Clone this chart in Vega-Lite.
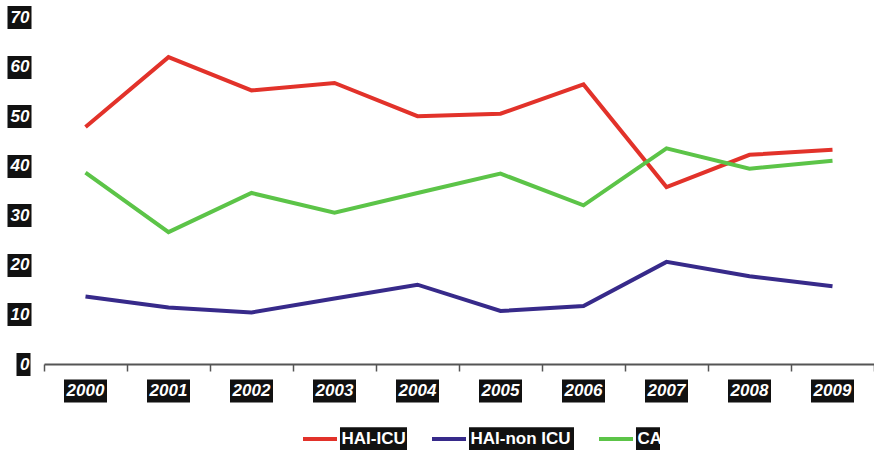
{
  "$schema": "https://vega.github.io/schema/vega-lite/v6.json",
  "width": 830,
  "height": 347,
  "autosize": {"type": "none"},
  "padding": {"left": 44, "top": 17, "right": 0, "bottom": 86},
  "background": "white",
  "config": {"view": {"stroke": null}, "font": "Liberation Sans"},
  "data": {
    "values": [
      {"year": "2000", "series": "HAI-ICU", "value": 47.8},
      {"year": "2001", "series": "HAI-ICU", "value": 61.9},
      {"year": "2002", "series": "HAI-ICU", "value": 55.2},
      {"year": "2003", "series": "HAI-ICU", "value": 56.7},
      {"year": "2004", "series": "HAI-ICU", "value": 50.0},
      {"year": "2005", "series": "HAI-ICU", "value": 50.5},
      {"year": "2006", "series": "HAI-ICU", "value": 56.4},
      {"year": "2007", "series": "HAI-ICU", "value": 35.7},
      {"year": "2008", "series": "HAI-ICU", "value": 42.2},
      {"year": "2009", "series": "HAI-ICU", "value": 43.2},
      {"year": "2000", "series": "HAI-non ICU", "value": 13.6},
      {"year": "2001", "series": "HAI-non ICU", "value": 11.4},
      {"year": "2002", "series": "HAI-non ICU", "value": 10.4},
      {"year": "2003", "series": "HAI-non ICU", "value": 13.2},
      {"year": "2004", "series": "HAI-non ICU", "value": 16.0},
      {"year": "2005", "series": "HAI-non ICU", "value": 10.7},
      {"year": "2006", "series": "HAI-non ICU", "value": 11.7},
      {"year": "2007", "series": "HAI-non ICU", "value": 20.6},
      {"year": "2008", "series": "HAI-non ICU", "value": 17.7},
      {"year": "2009", "series": "HAI-non ICU", "value": 15.7},
      {"year": "2000", "series": "CA", "value": 38.6},
      {"year": "2001", "series": "CA", "value": 26.6},
      {"year": "2002", "series": "CA", "value": 34.5},
      {"year": "2003", "series": "CA", "value": 30.5},
      {"year": "2004", "series": "CA", "value": 34.5},
      {"year": "2005", "series": "CA", "value": 38.4},
      {"year": "2006", "series": "CA", "value": 32.0},
      {"year": "2007", "series": "CA", "value": 43.5},
      {"year": "2008", "series": "CA", "value": 39.4},
      {"year": "2009", "series": "CA", "value": 41.0}
    ]
  },
  "encoding": {
    "y": {
      "field": "value",
      "type": "quantitative",
      "scale": {"domain": [0, 70], "nice": false},
      "axis": {
        "title": null,
        "values": [0, 10, 20, 30, 40, 50, 60, 70],
        "grid": false,
        "domain": false,
        "tickColor": "#111111",
        "tickWidth": 23,
        "tickSize": 37,
        "tickDash": {"condition": {"test": "datum.value === 0", "value": [0, 14, 14, 100]}, "value": [0, 13, 24, 100]},
        "labelPadding": -22,
        "labelColor": "white",
        "labelFont": "Liberation Sans",
        "labelFontSize": 17,
        "labelFontWeight": "bold",
        "labelFontStyle": "italic"
      }
    },
    "color": {
      "field": "series",
      "type": "nominal",
      "scale": {"domain": ["HAI-ICU", "HAI-non ICU", "CA"], "range": ["#e2322a", "#372a8a", "#5cc448"]},
      "legend": {
        "title": null,
        "orient": "none",
        "legendX": 257,
        "legendY": 403,
        "direction": "horizontal",
        "padding": 0,
        "columnPadding": 8,
        "symbolSize": 1156,
        "symbolStrokeWidth": 4,
        "symbolDash": [34, 2000],
        "symbolFillColor": "black",
        "symbolOpacity": 1,
        "labelOffset": 2.5,
        "labelColor": "white",
        "labelFont": "Liberation Sans",
        "labelFontSize": 17,
        "labelFontWeight": "bold",
        "labelLimit": 0,
        "encode": {
          "symbols": {
            "update": {
              "shape": {"signal": "datum.value === 'HAI-ICU' ? 'M-1,0H1.176V-0.7H5.118V0.7H1.176V0Z' : datum.value === 'HAI-non ICU' ? 'M-1,0H1.176V-0.7H7.353V0.7H1.176V0Z' : 'M-1,0H1.176V-0.7H2.588V0.7H1.176V0Z'"},
              "fill": {"value": "#111111"},
              "fillOpacity": {"value": 1}
            }
          }
        }
      }
    }
  },
  "layer": [
    {
      "transform": [{"filter": "datum.series !== 'HAI-non ICU'"}],
      "mark": {"type": "line", "strokeWidth": 4},
      "encoding": {
        "x": {
          "field": "year",
          "type": "ordinal",
          "scale": {"type": "band", "paddingInner": 0, "paddingOuter": 0},
          "axis": {
            "title": null,
            "orient": "bottom",
            "domain": false,
            "tickBand": "center",
            "tickColor": "#111111",
            "tickWidth": 43,
            "tickSize": 38,
            "tickDash": [0, 15, 23, 100],
            "labelAngle": 0,
            "labelBaseline": "middle",
            "labelPadding": -12,
            "labelColor": "white",
            "labelFont": "Liberation Sans",
            "labelFontSize": 17,
            "labelFontWeight": "bold",
            "labelFontStyle": "italic"
          }
        }
      }
    },
    {
      "transform": [{"filter": "datum.series === 'HAI-non ICU'"}],
      "mark": {"type": "line", "strokeWidth": 4},
      "encoding": {
        "x": {
          "field": "year",
          "type": "ordinal",
          "axis": {
            "title": null,
            "orient": "bottom",
            "labels": false,
            "domain": true,
            "domainColor": "#555555",
            "domainWidth": 2,
            "tickBand": "extent",
            "tickColor": "#555555",
            "tickWidth": 1.5,
            "tickSize": 7
          }
        }
      }
    }
  ],
  "resolve": {"axis": {"x": "independent"}}
}
